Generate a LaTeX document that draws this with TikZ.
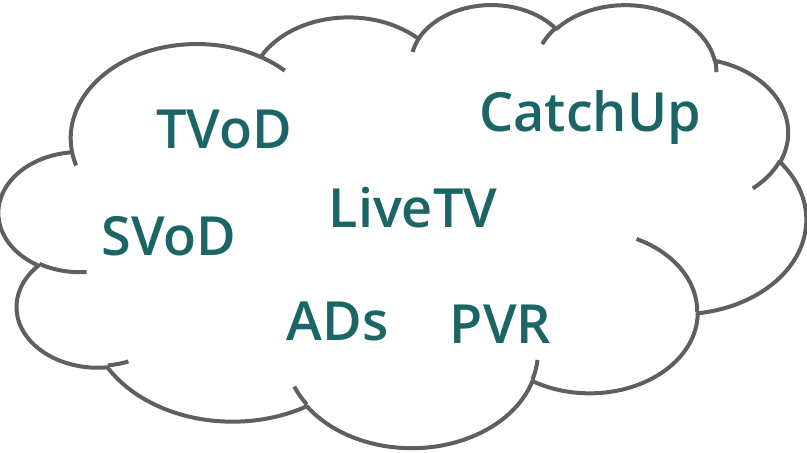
\documentclass[tikz,border=0pt]{standalone}
\usepackage{fontspec}
\setmainfont{Open Sans}[BoldFont={Open Sans Semibold}]
\definecolor{outline}{HTML}{5F5F5F}
\definecolor{label}{HTML}{1B6567}
\begin{document}
\begin{tikzpicture}[x=0.5pt,y=-0.5pt,
  % visual angle on an ellipse -> parametric angle
  declare function={pa(\xr,\yr,\ang)=\ang+mod(atan2(\xr*sin(\ang),\yr*cos(\ang))-\ang+900,360)-180;},
  lobe/.style n args={4}{x radius=#1,y radius=#2,start angle={pa(#1,#2,#3)},end angle={pa(#1,#2,#3+#4)}},
  rim/.style={draw=outline,line width=2pt,line join=round},
  tag/.style={text=label,font=\bfseries\fontsize{27}{32}\selectfont,inner sep=0pt,anchor=base}]
\useasboundingbox (0,0) rectangle (807,452);
\begin{scope}[shift={(-1,3.6)},x=9.340pt,y=-5.127pt]
  % outer outline of the cloud
  \path[rim,fill=white] (3.900,14.370)
    arc[lobe={6.753}{9.190}{-190.4875}{123.7805}]
    arc[lobe={5.333}{7.267}{-144.1024}{89.9452}]
    arc[lobe={4.365}{5.945}{-145.8079}{99.7230}]
    arc[lobe={4.857}{6.595}{-130.9861}{117.2417}]
    arc[lobe={5.333}{7.273}{-78.7089}{109.0269}]
    arc[lobe={6.775}{9.220}{-46.2673}{130.2690}]
    arc[lobe={5.785}{7.867}{0.6250}{114.0333}]
    arc[lobe={6.752}{9.215}{22.4516}{115.1726}]
    arc[lobe={7.720}{10.543}{66.2426}{75.7110}]
    arc[lobe={4.360}{5.918}{-274.9421}{146.7356}]
    arc[lobe={4.345}{5.945}{-246.8285}{152.5189}]
    -- cycle;
  % inner hooks where the lobes meet
  \draw[rim]
    (4.693,26.177) arc[lobe={4.345}{5.945}{86.7420}{26.4295}]
    (6.928,34.899) arc[lobe={4.360}{5.918}{73.6105}{11.4475}]
    (16.478,39.090) arc[lobe={6.752}{9.215}{137.6242}{14.0811}]
    (28.827,34.751) arc[lobe={6.752}{9.215}{6.4533}{15.9984}]
    (34.129,22.954) arc[lobe={5.785}{7.867}{-70.2924}{70.9174}]
    (41.798,15.354) arc[lobe={5.333}{7.273}{30.3180}{27.7515}]
    (38.324,5.426) arc[lobe={4.857}{6.595}{-13.7443}{14.8589}]
    (29.078,3.952) arc[lobe={4.857}{6.595}{-149.1815}{18.1954}]
    (22.141,4.720) arc[lobe={4.365}{5.945}{-163.4943}{17.6864}]
    (14.000,5.192) arc[lobe={6.753}{9.190}{-66.7070}{12.3194}]
    (4.127,15.789) arc[lobe={6.753}{9.190}{157.6544}{11.8582}];
\end{scope}
\node[tag] (tvod) at (224,148) {TVoD};
\node[tag] (catchup) at (590,131) {CatchUp};
\node[tag] (livetv) at (413,227) {LiveTV};
\node[tag] (svod) at (169,255) {SVoD};
\node[tag] (ads) at (337.5,340) {ADs};
\node[tag] (pvr) at (500.5,343) {PVR};
\end{tikzpicture}
\end{document}
